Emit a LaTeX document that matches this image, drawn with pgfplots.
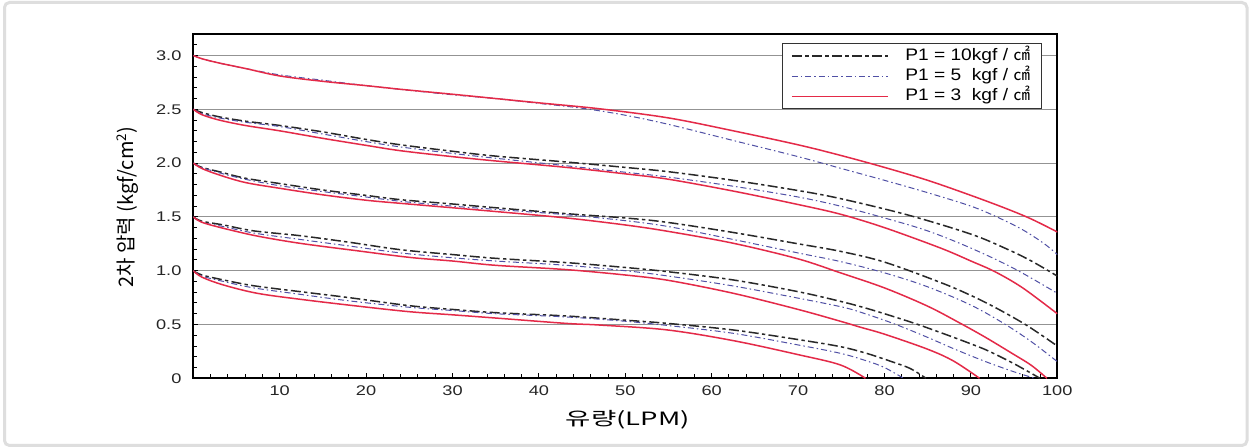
\documentclass[border=0pt]{standalone}
\usepackage{fontspec}
\setmainfont{Liberation Sans}
\newfontfamily\tickfont{Liberation Sans}[FakeStretch=1.3]
\newfontfamily\legfont{Liberation Sans}[FakeStretch=1.15]
\newfontfamily\kr{Noto Sans CJK KR}
\newfontfamily\krwide{Noto Sans CJK KR}[FakeStretch=1.5]
\usepackage{pgfplots}
\pgfplotsset{compat=1.18}
\definecolor{kc}{RGB}{40,40,40}
\definecolor{bc}{RGB}{80,80,165}
\definecolor{rc}{RGB}{228,42,72}
\definecolor{framec}{RGB}{222,222,222}
\newlength\px
\setlength\px{0.6pt}
\tikzset{
  kline/.style={draw=kc, line width=0.9pt, dash pattern=on 6pt off 2pt on 2pt off 2pt},
  bline/.style={draw=bc, line width=0.6pt, dash pattern=on 3.6pt off 1.8pt on 0.9pt off 1.8pt},
  rline/.style={draw=rc, line width=0.9pt},
}
\begin{document}
\begin{tikzpicture}
\path[use as bounding box, fill=white] (0,0) rectangle (1249\px,447\px);
\draw[framec, line width=1.8pt, rounded corners=3pt] (4.5\px,1.5\px) rectangle (1247\px,444.5\px);
\begin{axis}[
  at={(193.3\px,68.7\px)}, anchor=south west,
  scale only axis, width=864\px, height=344.3\px,
  xmin=0, xmax=100, ymin=0, ymax=3.2,
  axis line style={line width=1.4pt, black},
  xtick={10,20,...,100},
  minor xtick={0,2,...,100},
  ytick={0,0.5,1,1.5,2,2.5,3},
  yticklabels={0,0.5,1.0,1.5,2.0,2.5,3.0},
  minor ytick={0.1,0.2,0.3,0.4,0.6,0.7,0.8,0.9,1.1,1.2,1.3,1.4,1.6,1.7,1.8,1.9,2.1,2.2,2.3,2.4,2.6,2.7,2.8,2.9,3.1},
  tick pos=left,
  tick align=inside,
  major tick length=5\px, minor tick length=4\px,
  every tick/.style={black, line width=0.6pt},
  ymajorgrids,
  major grid style={color=gray!85, line width=0.6pt},
  /pgf/number format/assume math mode=true,
  tick label style={font=\tickfont\fontsize{8.4}{10}\selectfont, color=black!85},
  yticklabel style={xshift=-3.6pt},
  xticklabel style={yshift=-1pt},
  xlabel={\krwide 유량(LPM)},
  xlabel style={at={(axis description cs:0.503,-0.121)}, anchor=center, font=\fontsize{11}{13}\selectfont},
  ylabel={\kr 2차 압력 (kgf/cm\textsuperscript{2})},
  ylabel style={at={(axis description cs:-0.0756,0.4975)}, anchor=center, rotate=0, font=\fontsize{12}{14}\selectfont},
  legend style={at={(rel axis cs:0.9826,0.974)}, anchor=north east, draw=black!80, line width=0.6pt, fill=white,
    font=\legfont\fontsize{10}{12}\selectfont, inner xsep=5pt, inner ysep=2.7pt, row sep=2.8pt,
    nodes={inner ysep=0pt, text height=7.4pt, text depth=2pt}},
  legend cell align=left,
  legend image code/.code={\draw[#1] (0pt,0pt) -- (57.6pt,0pt); \path[draw=none] (0pt,0pt) -- (66pt,0pt);},
  every axis plot/.append style={smooth, tension=0.55},
]
% ---------- group 2.5 (legend series) ----------
\addplot[kline] coordinates {(0,2.50) (1,2.47) (3,2.43) (6,2.39) (10,2.35) (15,2.29) (20,2.22) (24,2.17) (30,2.11) (35,2.065) (43.2,2.01) (50,1.96) (55,1.92) (62.5,1.84) (70,1.745) (74.9,1.67) (82.6,1.52) (90,1.34) (94.2,1.20) (97,1.09) (100,0.95)};
\addlegendentry{P1 = 10kgf / {\kr ㎠}}
\addplot[bline] coordinates {(0,2.50) (1,2.46) (3,2.42) (6,2.38) (10,2.34) (15,2.27) (20,2.20) (24,2.15) (30,2.09) (35,2.045) (43.2,1.975) (50,1.915) (55,1.87) (62.5,1.785) (70,1.685) (74.9,1.60) (80,1.49) (85,1.37) (90,1.21) (95,1.02) (100,0.79)};
\addlegendentry{P1 = 5\ \ kgf / {\kr ㎠}}
\addplot[rline] coordinates {(0,2.50) (1,2.45) (3,2.40) (6,2.35) (10,2.30) (15,2.23) (20,2.165) (24,2.115) (30,2.06) (35,2.02) (43.2,1.96) (50,1.90) (55,1.85) (62.5,1.74) (70,1.615) (74.9,1.525) (80,1.40) (86.5,1.21) (90,1.09) (92.8,0.99) (96,0.84) (100,0.60)};
\addlegendentry{P1 = 3\ \ kgf / {\kr ㎠}}
% ---------- group 3.0 ----------
\addplot[bline, forget plot] coordinates {(0,3.00) (1,2.97) (3,2.93) (6,2.88) (10,2.82) (15,2.77) (20,2.72) (24,2.685) (30,2.635) (35,2.60) (40,2.555) (45,2.51) (50,2.445) (55,2.36) (62.5,2.21) (70,2.06) (75,1.95) (80,1.84) (85,1.725) (90,1.60) (93,1.50) (96,1.38) (98.5,1.25) (100,1.15)};
\addplot[rline, forget plot] coordinates {(0,3.00) (1,2.97) (3,2.93) (6,2.88) (10,2.81) (15,2.76) (20,2.72) (24,2.686) (30,2.64) (35,2.60) (40,2.56) (47,2.505) (55,2.42) (62.5,2.30) (70,2.17) (75,2.07) (80,1.96) (85,1.84) (90,1.70) (94,1.58) (97,1.48) (100,1.36)};
% ---------- group 2.0 ----------
\addplot[kline, forget plot] coordinates {(0,2.00) (1,1.96) (3,1.92) (6,1.86) (10,1.81) (15,1.75) (20,1.70) (24,1.66) (30,1.62) (35,1.585) (43.2,1.53) (50,1.49) (54.8,1.45) (62.5,1.355) (70,1.25) (74.9,1.18) (80,1.08) (86.5,0.89) (90,0.77) (93,0.65) (96.5,0.49) (100,0.30)};
\addplot[bline, forget plot] coordinates {(0,2.00) (1,1.96) (3,1.91) (6,1.85) (10,1.79) (15,1.735) (20,1.685) (24,1.645) (30,1.60) (35,1.57) (43.2,1.52) (50,1.465) (55,1.41) (62.5,1.29) (70,1.165) (74.9,1.085) (80,0.98) (85,0.85) (90,0.68) (93.8,0.51) (97,0.34) (100,0.155)};
\addplot[rline, forget plot] coordinates {(0,2.00) (1,1.95) (3,1.89) (6,1.82) (10,1.766) (15,1.705) (20,1.655) (24,1.626) (30,1.585) (35,1.55) (43.2,1.49) (50,1.425) (55,1.365) (62.5,1.255) (70,1.11) (74.9,0.98) (80,0.84) (85,0.67) (88.8,0.51) (91.7,0.38) (95,0.22) (97,0.12) (98.8,0.0)};
% ---------- group 1.5 ----------
\addplot[kline, forget plot] coordinates {(0,1.50) (1,1.46) (3.5,1.425) (7,1.37) (12.4,1.325) (18,1.265) (24,1.195) (30,1.15) (35,1.115) (43.2,1.075) (50,1.03) (55,0.99) (62.5,0.914) (70,0.805) (74.9,0.715) (77.5,0.66) (80,0.60) (83.5,0.51) (87,0.41) (90,0.32) (92,0.255) (95,0.135) (98,0.0)};
\addplot[bline, forget plot] coordinates {(0,1.50) (1,1.45) (3.5,1.41) (7,1.35) (12.4,1.29) (18,1.23) (24,1.165) (30,1.12) (35,1.09) (43.2,1.05) (50,1.00) (55,0.95) (62.5,0.858) (70,0.745) (74.9,0.666) (77.2,0.615) (81,0.51) (85,0.38) (88,0.275) (91.7,0.155) (95,0.06) (97.4,0.0)};
\addplot[rline, forget plot] coordinates {(0,1.50) (1,1.45) (3.5,1.394) (7.4,1.322) (12.4,1.254) (18.9,1.186) (25,1.124) (30,1.09) (35,1.05) (43.2,1.01) (50,0.96) (55,0.91) (62.5,0.79) (70,0.64) (74.9,0.53) (77.2,0.475) (80,0.41) (85,0.27) (88,0.16) (91,0.0)};
% ---------- group 1.0 ----------
\addplot[kline, forget plot] coordinates {(0,1.00) (1,0.96) (3.5,0.914) (7,0.86) (12.4,0.805) (18,0.75) (25,0.675) (30,0.64) (35,0.61) (43.2,0.579) (50,0.54) (54.8,0.511) (62.5,0.449) (70,0.36) (74.9,0.294) (78,0.23) (81,0.15) (83,0.09) (84.8,0.0)};
\addplot[bline, forget plot] coordinates {(0,1.00) (1,0.95) (3.5,0.90) (7,0.84) (12.4,0.78) (18,0.72) (25,0.66) (30,0.63) (35,0.60) (43.2,0.57) (50,0.53) (55,0.49) (62.5,0.418) (70,0.31) (74.9,0.232) (78,0.16) (80,0.10) (82.2,0.0)};
\addplot[rline, forget plot] coordinates {(0,1.00) (1,0.94) (3.5,0.867) (7.4,0.79) (12.4,0.734) (18.9,0.672) (25,0.619) (30,0.59) (35,0.56) (43.2,0.51) (47,0.495) (54.8,0.45) (62.5,0.35) (70,0.22) (74.9,0.124) (77.8,0.0)};
\end{axis}
\end{tikzpicture}
\end{document}
